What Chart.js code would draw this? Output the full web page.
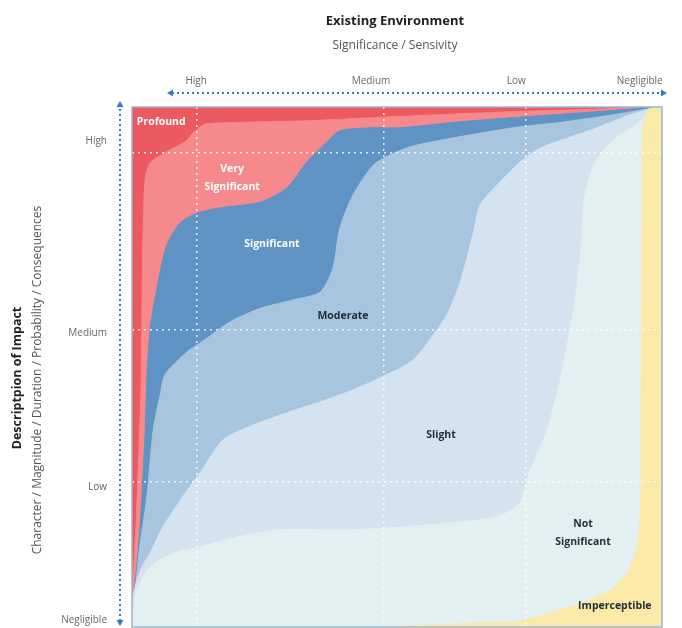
<!DOCTYPE html>
<html>
<head>
<meta charset="utf-8">
<title>Impact Significance Matrix</title>
<script src="https://cdn.jsdelivr.net/npm/chart.js@4.4.1/dist/chart.umd.min.js"></script>
<style>
  html, body { margin: 0; padding: 0; background: #fff; }
  #wrap { width: 682px; height: 628px; }
</style>
</head>
<body>
<div id="wrap"><canvas id="matrix"></canvas></div>
<script>
// x: sensitivity of environment (0 = high, 100 = negligible)
// y: description of impact (0 = negligible, 100 = high)

const regionNames = ['Profound', 'Very Significant', 'Significant', 'Moderate', 'Slight', 'Not Significant', 'Imperceptible'];
const regionColors = ['#ec5960', '#f6898b', '#5e93c4', '#a8c5df', '#d5e3f0', '#e2f0f1', '#fbe9a8'];

// upper/left edge of each region, traced bottom-left -> top-right
const edgeProfound = [[0, 100], [100, 100]];
const edgeVerySignificant = [[0, 4.2], [0.4, 12.9], [0.8, 20.6], [1.3, 34.0], [1.7, 45.6], [1.9, 62.9], [2.1, 76.3], [2.5, 86.3], [3.4, 89.2], [6.2, 91.2], [10.0, 93.3], [11.9, 95.4], [13.8, 96.7], [22.3, 97.1], [31.7, 97.3], [48.7, 98.1], [69.4, 99.0], [88.3, 99.6], [96.8, 100], [100, 100]];
const edgeSignificant = [[0, 3.3], [0.6, 8.5], [1.5, 18.7], [2.5, 37.9], [2.8, 47.5], [3.4, 57.1], [4.3, 62.9], [5.7, 70.2], [6.8, 74.0], [9.1, 77.7], [12.3, 79.6], [16.6, 80.6], [24.2, 81.7], [29.2, 84.4], [33.0, 89.4], [36.8, 93.3], [39.2, 95.4], [44.9, 96.0], [50.6, 96.0], [61.3, 97.1], [73.8, 98.1], [86.4, 99.0], [96.8, 99.8], [100, 100]];
const edgeModerate = [[0, 2.9], [0.6, 7.1], [1.5, 15.8], [2.8, 25.0], [4.0, 37.9], [5.3, 44.6], [6.2, 48.5], [9.1, 51.7], [10.9, 53.3], [14.2, 55.6], [18.5, 58.7], [24.2, 61.3], [30.4, 62.9], [35.5, 64.4], [37.9, 69.0], [39.2, 76.7], [41.7, 83.1], [45.5, 88.8], [48.7, 90.8], [53.0, 92.5], [62.5, 94.4], [71.9, 96.0], [81.3, 97.1], [90.8, 98.5], [97.2, 99.6], [100, 100]];
const edgeSlight = [[0, 5.0], [0.9, 9.0], [2.1, 12.0], [3.4, 14.2], [5.8, 19.2], [10.4, 26.3], [12.8, 29.6], [17.2, 36.0], [22.8, 38.8], [29.2, 41.2], [35.5, 43.3], [41.7, 45.6], [46.8, 47.9], [53.0, 51.3], [57.5, 57.1], [59.4, 60.0], [61.9, 66.3], [64.3, 75.4], [65.7, 81.2], [68.9, 85.0], [73.2, 89.4], [77.0, 92.1], [82.1, 94.0], [87.7, 96.0], [94.0, 98.5], [98.3, 99.8], [100, 100]];
const edgeNotSignificant = [[0, 1.3], [0.9, 7.0], [3.4, 11.5], [7.7, 14.2], [12.8, 15.4], [19.8, 17.3], [27.9, 18.7], [35.5, 18.7], [41.7, 18.7], [50.6, 19.2], [59.4, 20.0], [68.9, 21.2], [73.2, 23.8], [74.5, 28.3], [75.7, 31.5], [78.3, 37.9], [80.8, 47.5], [82.6, 57.1], [83.6, 62.9], [84.7, 72.5], [85.3, 82.1], [87.0, 88.5], [90.2, 93.1], [94.5, 96.2], [97.7, 98.8], [100, 100]];
const edgeImperceptible = [[46.8, 0], [65.7, 0.8], [72.6, 1.0], [78.9, 2.7], [85.1, 4.6], [90.2, 7.1], [93.4, 10.4], [95.3, 15.4], [96.0, 24.4], [96.1, 43.7], [96.2, 62.9], [96.3, 82.1], [96.4, 95.6], [97.4, 99.4], [100, 100]];

const regionEdges = [edgeProfound, edgeVerySignificant, edgeSignificant, edgeModerate, edgeSlight, edgeNotSignificant, edgeImperceptible];

// label text inside each region and where it sits (data units)
const regionLabels = [['Profound'], ['Very', 'Significant'], ['Significant'], ['Moderate'], ['Slight'], ['Not', 'Significant'], ['Imperceptible']];
const regionLabelX = [0.9, 18.9, 26.4, 39.8, 58.3, 85.1, 91.1];
const regionLabelY = [97.1, 86.3, 73.7, 59.8, 36.9, 18.0, 4.0];

// axis ticks
const sensitivityLabels = ['High', 'Medium', 'Low', 'Negligible'];
const sensitivityTickPos = [12.1, 45.1, 72.5, 95.8];
const impactLabels = ['High', 'Medium', 'Low', 'Negligible'];
const impactTickPos = [93.5, 56.5, 26.9, 1.3];
const gridX = [12.3, 47.5, 74.3];
const gridY = [27.9, 57.1, 91.2];

const FONT = '"Open Sans", "Noto Sans", sans-serif';
const ARROW_BLUE = '#3b79ba';

function dottedArrow(ctx, x1, y1, x2, y2) {
  const ang = Math.atan2(y2 - y1, x2 - x1);
  ctx.save();
  ctx.strokeStyle = ARROW_BLUE;
  ctx.fillStyle = ARROW_BLUE;
  ctx.lineWidth = 2;
  ctx.setLineDash([2, 3]);
  ctx.beginPath();
  ctx.moveTo(x1 + 5 * Math.cos(ang), y1 + 5 * Math.sin(ang));
  ctx.lineTo(x2 - 5 * Math.cos(ang), y2 - 5 * Math.sin(ang));
  ctx.stroke();
  ctx.setLineDash([]);
  [[x1, y1, ang + Math.PI], [x2, y2, ang]].forEach(([px, py, a]) => {
    ctx.beginPath();
    ctx.moveTo(px, py);
    ctx.lineTo(px - 6 * Math.cos(a) + 3.5 * Math.sin(a), py - 6 * Math.sin(a) - 3.5 * Math.cos(a));
    ctx.lineTo(px - 6 * Math.cos(a) - 3.5 * Math.sin(a), py - 6 * Math.sin(a) + 3.5 * Math.cos(a));
    ctx.closePath();
    ctx.fill();
  });
  ctx.restore();
}

const matrixDecor = {
  id: 'matrixDecor',
  afterDraw(chart) {
    const { ctx, chartArea: a, scales: { x, y } } = chart;
    ctx.save();

    // frame round the plot
    ctx.strokeStyle = '#9db4cd';
    ctx.lineWidth = 1.5;
    ctx.strokeRect(a.left, a.top, a.right - a.left, a.bottom - a.top);

    // region names
    ctx.font = `bold 10.5px ${FONT}`;
    ctx.textBaseline = 'middle';
    regionLabels.forEach((lines, i) => {
      ctx.fillStyle = i < 3 ? '#ffffff' : '#1f2b38';
      ctx.textAlign = i === 0 ? 'left' : 'center';
      const cx = x.getPixelForValue(regionLabelX[i]);
      const cy = y.getPixelForValue(regionLabelY[i]);
      const lh = 18;
      lines.forEach((t, j) => {
        ctx.fillText(t, cx, cy + (j - (lines.length - 1) / 2) * lh);
      });
    });

    // top axis
    ctx.fillStyle = '#222';
    ctx.textAlign = 'center';
    ctx.font = `bold 13px ${FONT}`;
    ctx.fillText('Existing Environment', 395, 21);
    ctx.fillStyle = '#555';
    ctx.font = `12px ${FONT}`;
    ctx.fillText('Significance / Sensivity', 395, 46);
    ctx.font = `10px ${FONT}`;
    ctx.fillStyle = '#666';
    sensitivityLabels.forEach((t, i) => {
      ctx.fillText(t, x.getPixelForValue(sensitivityTickPos[i]), 81);
    });
    dottedArrow(ctx, 167, 93, 667, 93);

    // left axis
    ctx.textAlign = 'right';
    impactLabels.forEach((t, i) => {
      ctx.fillText(t, 107, y.getPixelForValue(impactTickPos[i]));
    });
    dottedArrow(ctx, 120, 626, 120, 101);

    ctx.save();
    ctx.translate(17, 378);
    ctx.rotate(-Math.PI / 2);
    ctx.textAlign = 'center';
    ctx.fillStyle = '#222';
    ctx.font = `bold 12.5px ${FONT}`;
    ctx.fillText('Descriptpion of Impact', 0, 0);
    ctx.restore();
    ctx.save();
    ctx.translate(38, 380);
    ctx.rotate(-Math.PI / 2);
    ctx.textAlign = 'center';
    ctx.fillStyle = '#555';
    ctx.font = `12px ${FONT}`;
    ctx.fillText('Character / Magnitude / Duration / Probability / Consequences', 0, 0);
    ctx.restore();

    ctx.restore();
  }
};

const datasets = regionNames.map((name, i) => ({
  label: name,
  data: regionEdges[i].map(([ex, ey]) => ({ x: ex, y: ey })),
  backgroundColor: regionColors[i],
  borderColor: regionColors[i],
  borderWidth: 1,
  pointRadius: 0,
  tension: 0.25,
  fill: 'start',
  order: regionNames.length - i
}));

const gridStyle = { color: 'rgba(255,255,255,0.85)', lineWidth: 1.5, drawTicks: false, z: 1 };

new Chart(document.getElementById('matrix'), {
  type: 'line',
  data: { datasets },
  options: {
    responsive: true,
    maintainAspectRatio: false,
    animation: false,
    layout: { padding: { left: 132, top: 107, right: 20, bottom: 1 } },
    plugins: {
      legend: { display: false },
      tooltip: { enabled: false }
    },
    scales: {
      x: {
        type: 'linear', min: 0, max: 100,
        afterBuildTicks: s => { s.ticks = gridX.map(v => ({ value: v })); },
        ticks: { display: false },
        grid: gridStyle,
        border: { display: false, dash: [2, 4] }
      },
      y: {
        type: 'linear', min: 0, max: 100,
        afterBuildTicks: s => { s.ticks = gridY.map(v => ({ value: v })); },
        ticks: { display: false },
        grid: gridStyle,
        border: { display: false, dash: [2, 4] }
      }
    }
  },
  plugins: [matrixDecor]
});
</script>
</body>
</html>
